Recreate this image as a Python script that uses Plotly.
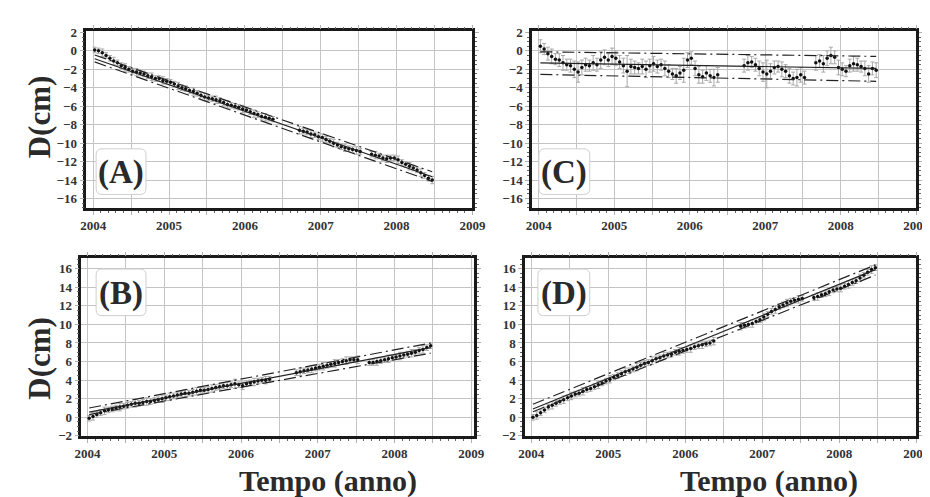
import plotly.graph_objects as go

W, H = 930, 497

# ---------------- data ----------------
t = [2004.02, 2004.07, 2004.12, 2004.17, 2004.22, 2004.27, 2004.32, 2004.37, 2004.42, 2004.47,
     2004.52, 2004.57, 2004.62, 2004.67, 2004.72, 2004.77, 2004.82, 2004.87, 2004.92, 2004.97,
     2005.02, 2005.07, 2005.12, 2005.17, 2005.22, 2005.27, 2005.32, 2005.37, 2005.42, 2005.47,
     2005.52, 2005.57, 2005.62, 2005.67, 2005.72, 2005.77, 2005.82, 2005.87, 2005.92, 2005.97,
     2006.02, 2006.07, 2006.12, 2006.17, 2006.22, 2006.27, 2006.32, 2006.37,
     2006.72, 2006.77, 2006.82, 2006.87, 2006.92, 2006.97, 2007.02, 2007.07, 2007.12, 2007.17,
     2007.22, 2007.27, 2007.32, 2007.37, 2007.42, 2007.47, 2007.52,
     2007.67, 2007.72, 2007.77, 2007.82, 2007.87, 2007.92, 2007.97, 2008.02, 2008.07, 2008.12,
     2008.17, 2008.22, 2008.27, 2008.32, 2008.37, 2008.42, 2008.47]

dA = [0.1, 0.0, -0.2, -0.5, -0.8, -1.1, -1.3, -1.6, -1.8, -2.0,
      -2.2, -2.3, -2.4, -2.5, -2.7, -2.8, -3.0, -3.0, -3.2, -3.3,
      -3.4, -3.6, -3.8, -4.0, -4.1, -4.3, -4.4, -4.6, -4.8, -5.0,
      -5.1, -5.2, -5.3, -5.4, -5.6, -5.8, -5.9, -6.0, -6.1, -6.3,
      -6.4, -6.6, -6.8, -6.9, -7.1, -7.2, -7.3, -7.4,
      -8.6, -8.7, -8.8, -9.0, -9.1, -9.3, -9.4, -9.6, -9.8, -10.0,
      -10.2, -10.4, -10.5, -10.6, -10.7, -10.8, -10.9,
      -11.2, -11.3, -11.4, -11.6, -11.7, -11.6, -11.6, -11.8, -12.1, -12.3,
      -12.5, -12.7, -12.9, -13.2, -13.5, -13.8, -14.0]
eA = [0.3, 0.3, 0.4, 0.3, 0.3, 0.4, 0.3, 0.3, 0.4, 0.3,
      0.3, 0.4, 0.3, 0.3, 0.3, 0.4, 0.3, 0.3, 0.4, 0.3,
      0.3, 0.3, 0.4, 0.3, 0.3, 0.3, 0.4, 0.3, 0.3, 0.4,
      0.3, 0.3, 0.4, 0.3, 0.3, 0.4, 0.3, 0.3, 0.3, 0.4,
      0.3, 0.3, 0.4, 0.3, 0.3, 0.4, 0.3, 0.3,
      0.4, 0.3, 0.3, 0.4, 0.3, 0.3, 0.4, 0.3, 0.3, 0.4,
      0.3, 0.3, 0.4, 0.3, 0.3, 0.4, 0.3,
      0.3, 0.4, 0.3, 0.3, 0.4, 0.3, 0.3, 0.4, 0.3, 0.3,
      0.4, 0.3, 0.3, 0.4, 0.3, 0.3, 0.4]

dB = [-0.1, 0.1, 0.3, 0.5, 0.7, 0.8, 0.9, 1.0, 1.1, 1.2,
      1.3, 1.4, 1.5, 1.5, 1.6, 1.7, 1.7, 1.8, 1.9, 2.0,
      2.1, 2.2, 2.3, 2.4, 2.5, 2.6, 2.6, 2.7, 2.8, 2.9,
      2.9, 3.0, 3.1, 3.2, 3.3, 3.4, 3.4, 3.5, 3.6, 3.5,
      3.4, 3.6, 3.7, 3.8, 3.9, 4.0, 4.0, 4.1,
      4.8, 4.9, 5.0, 5.1, 5.2, 5.3, 5.4, 5.5, 5.6, 5.7,
      5.8, 5.9, 6.0, 6.1, 6.2, 6.2, 6.2,
      5.9, 5.9, 6.0, 6.1, 6.2, 6.3, 6.4, 6.5, 6.6, 6.7,
      6.8, 6.9, 7.0, 7.2, 7.3, 7.5, 7.7]
eB = [0.3, 0.4, 0.3, 0.3, 0.4, 0.3, 0.3, 0.3, 0.4, 0.3,
      0.3, 0.3, 0.4, 0.3, 0.3, 0.4, 0.3, 0.3, 0.3, 0.4,
      0.3, 0.4, 0.3, 0.3, 0.3, 0.4, 0.3, 0.3, 0.4, 0.3,
      0.3, 0.3, 0.4, 0.3, 0.3, 0.3, 0.4, 0.3, 0.5, 0.3,
      0.4, 0.3, 0.3, 0.4, 0.3, 0.3, 0.4, 0.3,
      0.3, 0.4, 0.3, 0.3, 0.4, 0.3, 0.3, 0.4, 0.3, 0.3,
      0.4, 0.3, 0.3, 0.4, 0.3, 0.3, 0.4,
      0.3, 0.3, 0.4, 0.3, 0.3, 0.4, 0.3, 0.3, 0.4, 0.3,
      0.3, 0.4, 0.3, 0.3, 0.4, 0.3, 0.3]

dC = [0.5, 0.2, -0.3, -0.6, -0.9, -1.0, -1.3, -1.5, -1.6, -2.0,
      -2.3, -1.8, -1.5, -1.6, -1.3, -1.5, -1.0, -0.7, -1.0, -0.6,
      -0.8, -1.2, -1.6, -2.2, -1.7, -1.8, -1.9, -1.7, -2.0, -1.6,
      -1.4, -1.7, -1.5, -1.9, -2.2, -2.5, -2.7, -2.4, -2.1, -1.0,
      -0.8, -1.9, -2.6, -2.8, -2.4, -2.7, -2.9, -2.6,
      -1.6, -1.3, -1.2, -1.5, -1.9, -2.3, -2.5, -2.2, -1.8, -1.7,
      -2.0, -2.2, -2.7, -3.0, -2.9, -2.6, -2.9,
      -1.3, -1.1, -1.4, -0.8, -0.5, -0.7, -1.8, -2.0, -2.2, -1.6,
      -1.4, -1.5, -1.7, -1.9, -2.5, -1.9, -2.1]
eC = [0.7, 0.6, 0.7, 0.8, 0.6, 0.7, 0.8, 0.6, 0.7, 0.9,
      1.1, 0.8, 0.7, 0.6, 0.8, 0.7, 0.9, 0.8, 0.7, 0.9,
      0.8, 0.7, 0.8, 1.7, 0.8, 0.7, 0.6, 0.8, 0.9, 0.7,
      0.8, 0.7, 0.6, 0.8, 0.7, 0.6, 0.8, 0.7, 1.3, 0.8,
      0.7, 0.8, 0.9, 0.7, 0.8, 0.7, 0.9, 0.8,
      0.7, 0.8, 0.6, 0.7, 0.8, 1.0, 1.5, 0.8, 0.7, 0.6,
      0.8, 0.7, 0.8, 0.7, 0.9, 0.8, 0.7,
      0.8, 0.7, 0.9, 0.8, 0.9, 0.7, 0.8, 0.7, 0.6, 0.7,
      0.8, 0.7, 0.6, 0.8, 0.9, 0.7, 0.8]

dD = [0.0, 0.2, 0.5, 0.8, 1.1, 1.3, 1.5, 1.7, 1.9, 2.1,
      2.3, 2.5, 2.6, 2.8, 3.0, 3.1, 3.3, 3.5, 3.7, 3.9,
      4.1, 4.3, 4.5, 4.7, 4.9, 5.0, 5.2, 5.4, 5.6, 5.8,
      5.9, 6.1, 6.3, 6.4, 6.6, 6.7, 6.8, 7.0, 7.1, 7.2,
      7.3, 7.4, 7.6, 7.7, 7.8, 7.9, 8.0, 8.2,
      9.8, 9.9, 10.0, 10.1, 10.3, 10.5, 10.8, 11.1, 11.4, 11.6,
      11.9, 12.1, 12.3, 12.5, 12.6, 12.7, 12.8,
      12.9, 13.0, 13.2, 13.3, 13.5, 13.7, 13.8, 13.9, 14.1, 14.3,
      14.5, 14.7, 15.0, 15.3, 15.6, 15.9, 16.1]
eD = [0.3, 0.4, 0.3, 0.3, 0.3, 0.4, 0.3, 0.3, 0.4, 0.3,
      0.4, 0.3, 0.3, 0.4, 0.3, 0.3, 0.3, 0.4, 0.3, 0.3,
      0.4, 0.3, 0.3, 0.3, 0.4, 0.3, 0.3, 0.4, 0.3, 0.3,
      0.3, 0.4, 0.3, 0.3, 0.4, 0.3, 0.3, 0.3, 0.4, 0.3,
      0.3, 0.4, 0.3, 0.3, 0.4, 0.3, 0.3, 0.4,
      0.4, 0.3, 0.3, 0.4, 0.3, 0.3, 0.4, 0.3, 0.3, 0.4,
      0.3, 0.3, 0.4, 0.3, 0.3, 0.4, 0.3,
      0.3, 0.4, 0.3, 0.3, 0.4, 0.3, 0.3, 0.4, 0.3, 0.4,
      0.3, 0.3, 0.4, 0.3, 0.3, 0.4, 0.3]

fit_t = [2004.02, 2008.47]
fitA, upA, loA = [-0.85, -13.65], [-0.45, -13.1], [-1.2, -14.15]
fitB, upB, loB = [0.55, 7.5], [1.0, 8.0], [0.3, 6.9]
fitC, upC, loC = [-1.3, -1.9], [-0.1, -0.6], [-2.55, -3.3]
fitD, upD, loD = [0.9, 15.9], [1.4, 16.4], [0.6, 15.3]

labels = ["(A)", "(B)", "(C)", "(D)"]
x_vals = [2004, 2004.5, 2005, 2005.5, 2006, 2006.5, 2007, 2007.5, 2008, 2008.5, 2009]
x_text = ["2004", "", "2005", "", "2006", "", "2007", "", "2008", "", "2009"]
y_title = "D(cm)"
x_title = "Tempo (anno)"

# ---------------- figure ----------------
SERIF = "Liberation Serif"
fig = go.Figure()

def px(x):
    return x / W

def py(y):
    return 1 - y / H

# panel geometry in pixels: (left, right, top, bottom)
geo = {
    "A": (73, 468, 17, 199),
    "C": (529, 922, 17, 199),
    "B": (68, 470, 251, 434),
    "D": (522, 922, 251, 434),
}
xr = {"A": [2003.91, 2009.0], "C": [2003.91, 2009.0], "B": [2003.92, 2009.04], "D": [2003.92, 2009.0]}
yr = {"A": [-17.03, 2.1], "C": [-17.03, 2.1], "B": [-2.0, 17.1], "D": [-2.0, 17.1]}

panels = [
    ("A", 1, dA, eA, fitA, upA, loA),
    ("C", 2, dC, eC, fitC, upC, loC),
    ("B", 3, dB, eB, fitB, upB, loB),
    ("D", 4, dD, eD, fitD, upD, loD),
]

DASH = "12px,4px,2px,4px"
for name, k, d, e, fit, up, lo in panels:
    xa = "x" if k == 1 else f"x{k}"
    ya = "y" if k == 1 else f"y{k}"
    fig.add_trace(go.Scatter(
        x=t, y=d, mode="markers", xaxis=xa, yaxis=ya,
        marker=dict(size=3.5, color="#111"),
        error_y=dict(type="data", array=e, visible=True, color="#a8a8a8", thickness=1, width=2),
        showlegend=False, hoverinfo="skip"))
    for yy, dash in ((fit, "solid"), (up, DASH), (lo, DASH)):
        fig.add_trace(go.Scatter(
            x=fit_t, y=yy, mode="lines", xaxis=xa, yaxis=ya,
            line=dict(color="#222", width=1.2, dash=dash),
            showlegend=False, hoverinfo="skip"))

    l, r, tp, b = geo[name]
    axis_common = dict(
        showline=True, linecolor="#1a1a1a", linewidth=2.5, mirror="ticks",
        showgrid=True, gridcolor="#c4c4c4", gridwidth=1.3,
        ticks="outside", ticklen=4, tickcolor="#b0b0b0", tickwidth=1,
        zeroline=False,
        tickfont=dict(family=SERIF, size=13, color="#333", weight="bold"),
    )
    xkey = "xaxis" if k == 1 else f"xaxis{k}"
    ykey = "yaxis" if k == 1 else f"yaxis{k}"
    fig.update_layout({
        xkey: dict(domain=[px(l), px(r)], range=xr[name], anchor=ya,
                   tickvals=x_vals, ticktext=x_text,
                   minor=dict(ticks="outside", ticklen=2, dtick=0.1, tick0=2004,
                              tickcolor="#666", showgrid=False),
                   **axis_common),
        ykey: dict(domain=[py(b), py(tp)], range=yr[name], anchor=xa,
                   tick0=0, dtick=2,
                   minor=dict(ticks="outside", ticklen=2, dtick=0.5,
                              tickcolor="#666", showgrid=False),
                   **axis_common),
    })

# panel label boxes (rounded rectangles) and texts
boxes = {"A": (83, 134, 138, 185), "C": (536, 588, 138, 185),
         "B": (83, 134, 262, 310), "D": (535, 588, 262, 310)}
shapes = []
annotations = []
rad = 6
for name in ["A", "B", "C", "D"]:
    x0, x1, y0, y1 = boxes[name]
    path = (f"M {px(x0+rad)},{py(y0)} L {px(x1-rad)},{py(y0)} "
            f"Q {px(x1)},{py(y0)} {px(x1)},{py(y0+rad)} "
            f"L {px(x1)},{py(y1-rad)} Q {px(x1)},{py(y1)} {px(x1-rad)},{py(y1)} "
            f"L {px(x0+rad)},{py(y1)} Q {px(x0)},{py(y1)} {px(x0)},{py(y1-rad)} "
            f"L {px(x0)},{py(y0+rad)} Q {px(x0)},{py(y0)} {px(x0+rad)},{py(y0)} Z")
    shapes.append(dict(type="path", xref="paper", yref="paper", path=path,
                       fillcolor="white", line=dict(color="#cfcfcf", width=1), layer="above"))
    annotations.append(dict(xref="paper", yref="paper",
                            x=px((x0 + x1) / 2), y=py((y0 + y1) / 2 + 1),
                            xanchor="center", yanchor="middle", showarrow=False,
                            text=labels["ABCD".index(name)],
                            font=dict(family=SERIF, size=33, color="#2a2a2a", weight="bold")))

for yc in (105, 354):
    annotations.append(dict(xref="paper", yref="paper", x=px(25), y=py(yc),
                            xanchor="center", yanchor="middle", showarrow=False,
                            textangle=-90, text=y_title,
                            font=dict(family=SERIF, size=31, color="#2a2a2a", weight="bold")))
for xc in (320, 771):
    annotations.append(dict(xref="paper", yref="paper", x=px(xc), y=py(481),
                            xanchor="center", yanchor="middle", showarrow=False,
                            text=x_title,
                            font=dict(family=SERIF, size=30, color="#2a2a2a", weight="bold")))

fig.update_layout(
    width=W, height=H, margin=dict(l=0, r=0, t=0, b=0),
    paper_bgcolor="white", plot_bgcolor="white",
    shapes=shapes, annotations=annotations, showlegend=False,
)

fig.write_html("out.html")
